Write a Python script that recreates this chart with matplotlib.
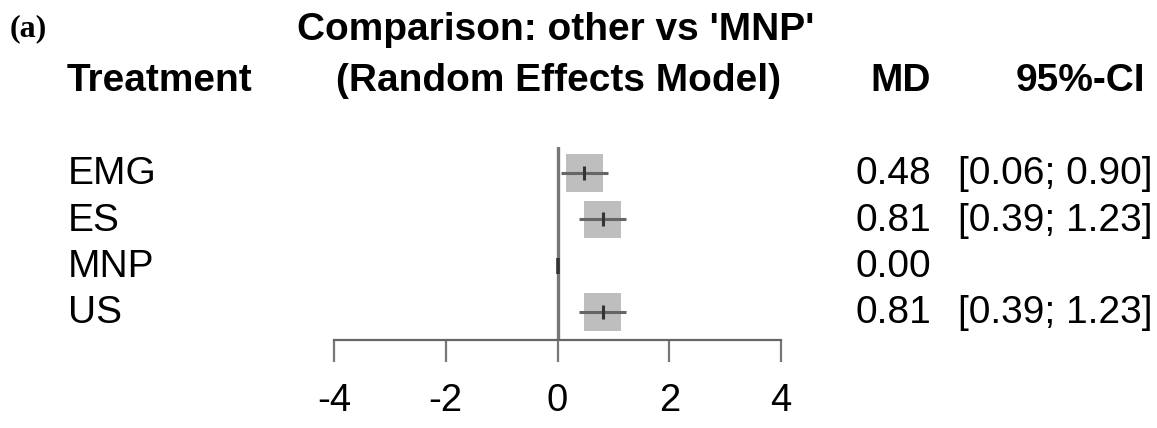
import matplotlib
matplotlib.use("Agg")
import matplotlib.pyplot as plt
from matplotlib.transforms import blended_transform_factory

plt.rcParams['font.family'] = ['Liberation Sans', 'DejaVu Sans']
plt.rcParams['axes.unicode_minus'] = False

# ---- data ----
treatments = ["EMG", "ES", "MNP", "US"]
md = [0.48, 0.81, 0.00, 0.81]
ci_low = [0.06, 0.39, None, 0.39]
ci_high = [0.90, 1.23, None, 1.23]
xticks = [-4, -2, 0, 2, 4]

W, H = 1157, 428
fig = plt.figure(figsize=(W / 100, H / 100), dpi=100)

# forest axes
px_per_unit = (781 - 334) / 8.0
xl = (-4.2, 4.2)
left_px = 334 - 0.2 * px_per_unit
right_px = 781 + 0.2 * px_per_unit
top_px, bot_px = 147, 340
ax = fig.add_axes([left_px / W, (H - bot_px) / H, (right_px - left_px) / W, (bot_px - top_px) / H])
ax.set_xlim(*xl)
ax.set_ylim(3.604, -0.561)
for s in ['top', 'right', 'left']:
    ax.spines[s].set_visible(False)
ax.spines['bottom'].set_bounds(xticks[0], xticks[-1])
ax.spines['bottom'].set_color('#666666')
ax.spines['bottom'].set_linewidth(1.6)
ax.set_yticks([])
ax.set_xticks(xticks)
ax.set_xticklabels([str(t) for t in xticks])
ax.tick_params(axis='x', direction='out', length=16, width=1.6, color='#777777',
               pad=15, labelsize=27.5, labelcolor='black')

ax.axvline(0, color='#777777', lw=2.4, zorder=1)

ys = list(range(len(treatments)))
for y, m, lo, hi in zip(ys, md, ci_low, ci_high):
    if lo is not None:
        ax.scatter([m], [y], marker='s', s=720, color='#bebebe', edgecolors='none', zorder=2)
        ax.plot([lo, hi], [y, y], color='#666666', lw=2.2, zorder=3, solid_capstyle='butt')
        ax.plot([m], [y], marker='|', markersize=10, mew=2.2, color='#333333', zorder=4)
    else:
        ax.plot([m], [y], marker='|', markersize=12, mew=2.6, color='#333333', zorder=4)

# text columns
tr = blended_transform_factory(fig.transFigure, ax.transData)
fs = 28
for y, name, m, lo, hi in zip(ys, treatments, md, ci_low, ci_high):
    ax.text(68 / W, y + 0.03, name, transform=tr, ha='left', va='center', fontsize=fs)
    ax.text(931 / W, y + 0.03, f"{m:.2f}", transform=tr, ha='right', va='center', fontsize=fs)
    if lo is not None:
        ax.text(1153 / W, y + 0.03, f"[{lo:.2f}; {hi:.2f}]", transform=tr, ha='right', va='center',
                fontsize=fs)

# headers
fig.text(556 / W, 1 - 30 / H, "Comparison: other vs 'MNP'", ha='center', va='center',
         fontsize=fs, fontweight='bold')
fig.text(559 / W, 1 - 81 / H, "(Random Effects Model)", ha='center', va='center',
         fontsize=fs, fontweight='bold')
fig.text(67 / W, 1 - 81 / H, "Treatment", ha='left', va='center', fontsize=fs, fontweight='bold')
fig.text(931 / W, 1 - 81 / H, "MD", ha='right', va='center', fontsize=fs, fontweight='bold')
fig.text(1145 / W, 1 - 81 / H, "95%-CI", ha='right', va='center', fontsize=fs, fontweight='bold')
fig.text(10 / W, 1 - 29 / H, "(a)", ha='left', va='center', fontsize=23, fontweight='bold',
         family=['Liberation Serif', 'DejaVu Serif'])

fig.savefig("out.png", dpi=100)
